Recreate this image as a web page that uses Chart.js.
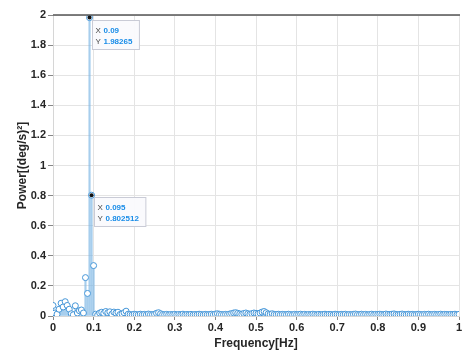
<!DOCTYPE html>
<html>
<head>
<meta charset="utf-8">
<script src="https://cdn.jsdelivr.net/npm/chart.js@4"></script>
<style>
html, body { margin: 0; padding: 0; background: #fff; }
#wrap { width: 464px; height: 351px; }
</style>
</head>
<body>
<div id="wrap"><canvas id="chart" width="464" height="351"></canvas></div>
<script>
// frequency bins [Hz]
var freq = [
    0, 0.005, 0.01, 0.015, 0.02, 0.025, 0.03, 0.035, 0.04, 0.045,
    0.05, 0.055, 0.06, 0.065, 0.07, 0.075, 0.08, 0.085, 0.09, 0.095,
    0.1, 0.105, 0.11, 0.115, 0.12, 0.125, 0.13, 0.135, 0.14, 0.145,
    0.15, 0.155, 0.16, 0.165, 0.17, 0.175, 0.18, 0.185, 0.19, 0.195,
    0.2, 0.205, 0.21, 0.215, 0.22, 0.225, 0.23, 0.235, 0.24, 0.245,
    0.25, 0.255, 0.26, 0.265, 0.27, 0.275, 0.28, 0.285, 0.29, 0.295,
    0.3, 0.305, 0.31, 0.315, 0.32, 0.325, 0.33, 0.335, 0.34, 0.345,
    0.35, 0.355, 0.36, 0.365, 0.37, 0.375, 0.38, 0.385, 0.39, 0.395,
    0.4, 0.405, 0.41, 0.415, 0.42, 0.425, 0.43, 0.435, 0.44, 0.445,
    0.45, 0.455, 0.46, 0.465, 0.47, 0.475, 0.48, 0.485, 0.49, 0.495,
    0.5, 0.505, 0.51, 0.515, 0.52, 0.525, 0.53, 0.535, 0.54, 0.545,
    0.55, 0.555, 0.56, 0.565, 0.57, 0.575, 0.58, 0.585, 0.59, 0.595,
    0.6, 0.605, 0.61, 0.615, 0.62, 0.625, 0.63, 0.635, 0.64, 0.645,
    0.65, 0.655, 0.66, 0.665, 0.67, 0.675, 0.68, 0.685, 0.69, 0.695,
    0.7, 0.705, 0.71, 0.715, 0.72, 0.725, 0.73, 0.735, 0.74, 0.745,
    0.75, 0.755, 0.76, 0.765, 0.77, 0.775, 0.78, 0.785, 0.79, 0.795,
    0.8, 0.805, 0.81, 0.815, 0.82, 0.825, 0.83, 0.835, 0.84, 0.845,
    0.85, 0.855, 0.86, 0.865, 0.87, 0.875, 0.88, 0.885, 0.89, 0.895,
    0.9, 0.905, 0.91, 0.915, 0.92, 0.925, 0.93, 0.935, 0.94, 0.945,
    0.95, 0.955, 0.96, 0.965, 0.97, 0.975, 0.98, 0.985, 0.99, 0.995,
    1
];

// power [(deg/s)^2]
var power = [
    0.07, 0.02, 0.012, 0.045, 0.085, 0.06, 0.095, 0.07, 0.045, 0.015,
    0.008, 0.068, 0.02, 0.035, 0.04, 0.02, 0.255, 0.15, 1.98265, 0.802512,
    0.335, 0.012, 0.006, 0.02, 0.025, 0.018, 0.03, 0.022, 0.028, 0.012,
    0.026, 0.02, 0.025, 0.01, 0.015, 0.022, 0.032, 0.012, 0.01, 0.008,
    0.012, 0.01, 0.008, 0.012, 0.009, 0.011, 0.008, 0.013, 0.01, 0.009,
    0.012, 0.018, 0.022, 0.015, 0.01, 0.009, 0.011, 0.008, 0.01, 0.009,
    0.011, 0.008, 0.01, 0.009, 0.012, 0.008, 0.01, 0.009, 0.011, 0.008,
    0.01, 0.009, 0.012, 0.01, 0.008, 0.011, 0.009, 0.01, 0.012, 0.009,
    0.013, 0.015, 0.012, 0.01, 0.009, 0.011, 0.01, 0.013, 0.016, 0.02,
    0.022, 0.018, 0.014, 0.012, 0.017, 0.02, 0.015, 0.012, 0.016, 0.02,
    0.018, 0.015, 0.02, 0.026, 0.03, 0.022, 0.014, 0.012, 0.015, 0.011,
    0.01, 0.012, 0.009, 0.011, 0.01, 0.009, 0.012, 0.01, 0.008, 0.011,
    0.009, 0.01, 0.012, 0.009, 0.011, 0.008, 0.01, 0.009, 0.012, 0.01,
    0.008, 0.011, 0.009, 0.01, 0.012, 0.009, 0.011, 0.01, 0.008, 0.012,
    0.01, 0.009, 0.011, 0.01, 0.012, 0.008, 0.01, 0.009, 0.011, 0.013,
    0.01, 0.009, 0.012, 0.01, 0.011, 0.008, 0.01, 0.012, 0.009, 0.011,
    0.01, 0.012, 0.01, 0.009, 0.013, 0.011, 0.01, 0.012, 0.014, 0.01,
    0.009, 0.011, 0.013, 0.01, 0.009, 0.012, 0.01, 0.011, 0.009, 0.01,
    0.012, 0.01, 0.009, 0.011, 0.01, 0.012, 0.009, 0.01, 0.011, 0.009,
    0.01, 0.012, 0.009, 0.011, 0.01, 0.009, 0.011, 0.01, 0.012, 0.009,
    0.011
];

var xTicks = ['0', '0.1', '0.2', '0.3', '0.4', '0.5', '0.6', '0.7', '0.8', '0.9', '1'];
var yTicks = ['0', '0.2', '0.4', '0.6', '0.8', '1', '1.2', '1.4', '1.6', '1.8', '2'];

// data tips shown on the figure
var tipX = [0.09, 0.095];
var tipY = [1.98265, 0.802512];

var points = [];
for (var i = 0; i < freq.length; i++) {
    points.push({ x: freq[i], y: power[i] });
}

var markerCol = '#4596d8';
var stemCol = 'rgba(120,180,228,0.65)';
var tickFont = { family: 'Liberation Sans, Arial, sans-serif', size: 11, weight: 'bold' };

// dark frame line along the top of the axes
var topLine = {
    id: 'topLine',
    afterDraw: function(chart) {
        var c = chart.ctx, a = chart.chartArea;
        c.save();
        c.strokeStyle = '#555';
        c.lineWidth = 1.5;
        c.beginPath();
        c.moveTo(a.left, a.top);
        c.lineTo(a.right + 1, a.top);
        c.stroke();
        c.restore();
    }
};

// matlab-like data tips
var dataTips = {
    id: 'dataTips',
    afterDraw: function(chart) {
        var c = chart.ctx;
        var xs = chart.scales.x, ys = chart.scales.y;
        c.save();
        for (var i = 0; i < tipX.length; i++) {
            var px = xs.getPixelForValue(tipX[i]);
            var py = ys.getPixelForValue(tipY[i]);
            c.font = 'bold 8px Liberation Sans, Arial, sans-serif';
            var w = Math.max(c.measureText(String(tipX[i])).width, c.measureText(String(tipY[i])).width) + 18;
            var bx = Math.round(px + 2) + 0.5, by = Math.round(py + 2) + 0.5;
            c.fillStyle = 'rgba(250,250,253,0.95)';
            c.strokeStyle = '#c9cbd6';
            c.lineWidth = 1;
            c.fillRect(bx, by, w, 29);
            c.strokeRect(bx, by, w, 29);
            c.textBaseline = 'middle';
            c.font = '8px Liberation Sans, Arial, sans-serif';
            c.fillStyle = '#444';
            c.fillText('X', bx + 3, by + 10);
            c.fillText('Y', bx + 3, by + 21);
            c.font = 'bold 8px Liberation Sans, Arial, sans-serif';
            c.fillStyle = '#1a8de8';
            c.fillText(String(tipX[i]), bx + 11, by + 10);
            c.fillText(String(tipY[i]), bx + 11, by + 21);
            c.fillStyle = '#111';
            c.beginPath();
            c.arc(px, py, 2, 0, Math.PI * 2);
            c.fill();
        }
        c.restore();
    }
};

new Chart(document.getElementById('chart'), {
    type: 'bar',
    data: {
        datasets: [{
            type: 'scatter',
            data: points,
            showLine: false,
            pointRadius: 3,
            pointBorderWidth: 1,
            pointBorderColor: markerCol,
            pointBackgroundColor: '#fff',
            borderColor: markerCol
        }, {
            type: 'bar',
            data: points,
            barThickness: 1.5,
            backgroundColor: stemCol,
            borderWidth: 0
        }]
    },
    options: {
        responsive: false,
        animation: false,
        layout: { padding: { top: 15, right: 3, left: 0, bottom: 0 } },
        plugins: { legend: { display: false }, tooltip: { enabled: false } },
        scales: {
            x: {
                type: 'linear',
                min: 0,
                max: 1,
                offset: false,
                afterFit: function(s) { s.height = 35; },
                afterBuildTicks: function(s) {
                    s.ticks = xTicks.map(function(t) { return { value: parseFloat(t) }; });
                },
                ticks: {
                    callback: function(v, i) { return xTicks[i]; },
                    font: tickFont,
                    color: '#262626',
                    maxRotation: 0,
                    padding: 1
                },
                grid: { color: '#e4e4e4', tickColor: '#888', tickLength: 4, offset: false },
                border: { color: '#d6d6d6' },
                title: {
                    display: true,
                    text: 'Frequency[Hz]',
                    font: { family: 'Liberation Sans, Arial, sans-serif', size: 12, weight: 'bold' },
                    color: '#262626',
                    padding: { top: 0, bottom: 0 }
                }
            },
            y: {
                min: 0,
                max: 2,
                afterFit: function(s) { s.width = 53; },
                afterBuildTicks: function(s) {
                    s.ticks = yTicks.map(function(t) { return { value: parseFloat(t) }; });
                },
                ticks: {
                    callback: function(v, i) { return yTicks[i]; },
                    font: tickFont,
                    color: '#262626',
                    padding: 2
                },
                grid: { color: '#e4e4e4', tickColor: '#888', tickLength: 5 },
                border: { color: '#d6d6d6' },
                title: {
                    display: true,
                    text: 'Power[(deg/s)²]',
                    font: { family: 'Liberation Sans, Arial, sans-serif', size: 12, weight: 'bold' },
                    color: '#262626',
                    padding: { top: 15, bottom: 0 }
                }
            }
        }
    },
    plugins: [topLine, dataTips]
});
</script>
</body>
</html>
